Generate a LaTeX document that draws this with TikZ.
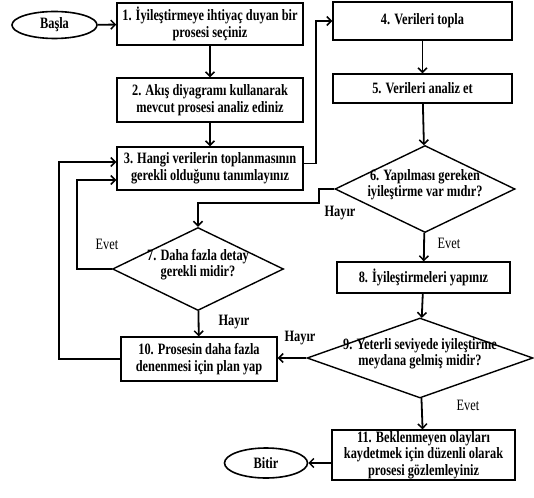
\documentclass[tikz,border=0pt]{standalone}
\usepackage{fontspec}
\newfontfamily\diafont{Liberation Serif}[FakeStretch=0.78]
\usetikzlibrary{shapes.geometric,arrows.meta}
\begin{document}
\begin{tikzpicture}[x=1pt,y=-1pt,
  every node/.style={font=\diafont\bfseries\fontsize{15.8}{16.5}\selectfont},
  box/.style={draw,line width=1.3pt,align=center,inner sep=0pt},
  term/.style={draw,ellipse,line width=1.6pt,inner sep=0pt},
  dec/.style={draw,diamond,line width=1.4pt,inner sep=0pt,aspect=1},
  arr/.style={line width=1.8pt,-{Straight Barb[length=4.5pt,width=9pt,line width=1.5pt]}},
  yes/.style={font=\diafont\fontsize{15.8}{16.5}\selectfont},
  no/.style={font=\diafont\bfseries\fontsize{15.8}{16.5}\selectfont}]
\useasboundingbox (0,0) rectangle (534,497);
\newcommand{\dtext}[1]{\smash{\makebox[0pt]{\begin{tabular}{@{}c@{}}#1\end{tabular}}}}
\node[term,minimum width=85,minimum height=27] (st) at (54.5,25) {Başla};
\node[box,minimum width=186,minimum height=42] (b1) at (210,24) {1. İyileştirmeye ihtiyaç duyan bir\\prosesi seçiniz};
\node[box,minimum width=186,minimum height=44] (b2) at (210,100) {2. Akış diyagramı kullanarak\\mevcut prosesi analiz ediniz};
\node[box,minimum width=186,minimum height=43] (b3) at (210,168.5) {3. Hangi verilerin toplanmasının\\gerekli olduğunu tanımlayınız};
\node[box,minimum width=179,minimum height=38] (b4) at (422.5,21) {4. Verileri topla};
\node[box,minimum width=179,minimum height=29] (b5) at (422.5,88.5) {5. Verileri analiz et};
\node[dec,minimum width=180,minimum height=87] (d6) at (425,189) {\dtext{6. Yapılması gereken\\iyileştirme var mıdır?}};
\node[dec,minimum width=171,minimum height=83] (d7) at (198,269) {\dtext{7. Daha fazla detay\\gerekli midir?}};
\node[box,minimum width=173,minimum height=31] (b8) at (423.5,277.5) {8. İyileştirmeleri yapınız};
\node[dec,minimum width=226,minimum height=80] (d9) at (420,358) {\dtext{9. Yeterli seviyede iyileştirme\\meydana gelmiş midir?}};
\node[box,minimum width=156,minimum height=44] (b10) at (199,359) {10. Prosesin daha fazla\\denenmesi için plan yap};
\node[box,minimum width=183,minimum height=50] (b11) at (423.5,455) {11. Beklenmeyen olayları\\kaydetmek için düzenli olarak\\prosesi gözlemleyiniz};
\node[term,minimum width=83,minimum height=30] (bt) at (266,463) {Bitir};
% labels
\node[no] (l1) at (340,213) {Hayır};
\node[yes] (l2) at (449,243) {Evet};
\node[yes] (l3) at (107,244) {Evet};
\node[no] (l4) at (234,322) {Hayır};
\node[no] (l5) at (300,338) {Hayır};
\node[yes] (l6) at (468,405) {Evet};
% connectors
\draw[arr] (st) -- (b1);
\draw[arr] (b1) -- (b2);
\draw[arr] (b2) -- (b3);
\draw[arr] ([yshift=5pt]b3.east) -- ++(12,0) |- (b4.west);
\draw[arr] (b4) -- (b5);
\draw[arr] (b5) -- (d6);
\draw[arr] (d6) -- (b8);
\draw[arr] (d6.west) -- ++(-15,0) -- ++(0,14) -| (d7.north);
\draw[arr] (d7.west) -- ++(-35,0) |- ([yshift=-11.5pt]b3.west);
\draw[arr] (d7) -- (b10);
\draw[arr] (b10.west) -- ++(-61,0) |- ([yshift=6.5pt]b3.west);
\draw[arr] (b8) -- (d9);
\draw[arr] (d9.west) -- (d9.west -| b10.east);
\draw[arr] (d9) -- (b11);
\draw[arr] (b11.west |- bt.east) -- (bt.east);
\end{tikzpicture}
\end{document}
